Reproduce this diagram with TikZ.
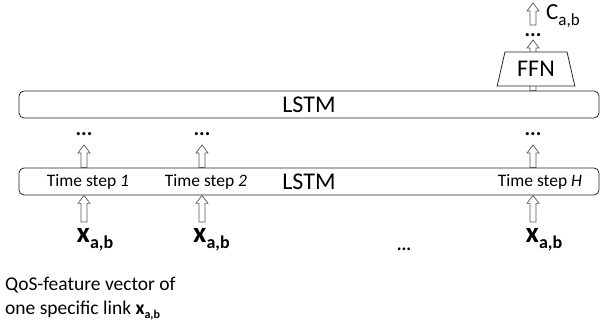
\documentclass[tikz,border=0pt]{standalone}
\usepackage{fontspec}
\setmainfont{Carlito}
\usetikzlibrary{shapes.geometric,calc}
\newcommand{\blockup}[2]{%
  \path[arrowshape] let \p1=(#1), \p2=(#2) in
   (\x1-3pt,\y1) -- (\x1-3pt,\y2-8pt) -- (\x1-6pt,\y2-8pt) -- (\x1,\y2)
   -- (\x1+6pt,\y2-8pt) -- (\x1+3pt,\y2-8pt) -- (\x1+3pt,\y1) -- cycle;}
\newcommand{\xlab}{{\fontsize{29}{30}\selectfont\bfseries x}\raisebox{-5.5pt}{\fontsize{18}{18}\selectfont\bfseries a,b}}
\newcommand{\xsmall}{{\bfseries x}\raisebox{-4pt}{\fontsize{12}{12}\selectfont\bfseries a,b}}
\newcommand{\clab}{{\fontsize{23}{24}\selectfont C}\raisebox{-6pt}{\fontsize{17}{17}\selectfont a,b}}
\begin{document}
\begin{tikzpicture}[x=1pt,y=-1pt,
  box/.style={draw=black!85, line width=0.8pt, rounded corners=5pt, fill=white,
    minimum width=580pt, minimum height=27pt, inner sep=0pt, font=\fontsize{24}{24}\selectfont},
  arrowshape/.style={draw=black!65, line width=0.7pt, fill=white},
  stepl/.style={anchor=base, font=\fontsize{17.5}{18}\selectfont, inner sep=0pt},
  dotsl/.style={anchor=base, font=\fontsize{21}{21}\selectfont\bfseries, inner sep=0pt},
  xl/.style={anchor=base west, inner sep=0pt},
  qos/.style={anchor=base west, inner sep=0pt, font=\fontsize{19.5}{24}\selectfont}]
\useasboundingbox (0,0) rectangle (606,331);
% boxes
\node[box] (up) at (309,104.5) {LSTM};
\node[box] (low) at (309,181.5) {LSTM};
% time step labels
\node[stepl] (t1) at (88,187) {Time step \textit{1}};
\node[stepl] (t2) at (206,187) {Time step \textit{2}};
\node[stepl] (tH) at (540,187) {Time step \textit{H}};
% column coordinates
\coordinate (in1) at (84,222);
\coordinate (in2) at (202,222);
\coordinate (in3) at (533,222);
\coordinate (o1) at (84,145);
\coordinate (o2) at (202,145);
\coordinate (o3) at (533,145);
% input arrows
\blockup{in1}{in1 |- low.south}
\blockup{in2}{in2 |- low.south}
\blockup{in3}{in3 |- low.south}
% output arrows
\blockup{o1 |- low.north}{o1}
\blockup{o2 |- low.north}{o2}
\blockup{o3 |- low.north}{o3}
% dots
\node[dotsl] (d1) at (84,136) {...};
\node[dotsl] (d2) at (202,136) {...};
\node[dotsl] (d3) at (533,136) {...};
\node[dotsl, font=\fontsize{18}{18}\selectfont\bfseries] (dm) at (404,251) {...};
% input labels
\node[xl] (x1) at (76.5,243) {\xlab};
\node[xl] (x2) at (193,243) {\xlab};
\node[xl] (x3) at (525.5,243) {\xlab};
% FFN
\coordinate (f0) at (533,40);
\blockup{f0 |- up.north}{f0}
\node[trapezium, trapezium angle=73, trapezium stretches=true, minimum width=78pt,
  minimum height=34pt, draw=black!85, line width=0.8pt, fill=white, inner sep=0pt,
  font=\fontsize{24}{24}\selectfont] (ffn) at (536,69) {FFN};
\node[dotsl] (d4) at (533,37) {...};
\coordinate (c0) at (533,25);
\coordinate (c1) at (533,3);
\blockup{c0}{c1}
\node[anchor=base west, inner sep=0pt] (cab) at (546,20) {\clab};
% caption text
\node[qos] (q1) at (5,291) {QoS-feature vector of};
\node[qos] (q2) at (5,315) {one specific link \xsmall};
\end{tikzpicture}
\end{document}
